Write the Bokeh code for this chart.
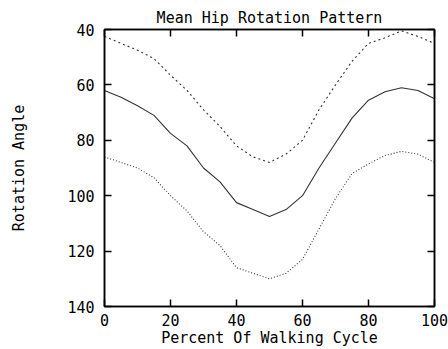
from bokeh.plotting import figure
from bokeh.models import Range1d, FixedTicker, LinearAxis
from bokeh.embed import file_html
from bokeh.resources import INLINE

pct = [0, 5, 10, 15, 20, 25, 30, 35, 40, 45, 50, 55, 60, 65, 70, 75, 80, 85, 90, 95, 100]
upper = [42.5, 45, 47.5, 50.5, 56.5, 62, 69, 75, 82, 86, 88, 85, 80, 69, 60, 51.5, 45, 43, 40.5, 42.5, 45]
mean = [62, 64.5, 67.5, 71, 77.5, 82, 90, 95, 102.5, 105, 107.5, 105, 100, 90, 81, 72, 65.5, 62.5, 61, 62, 65]
lower = [86, 88, 90, 93.5, 100, 105.5, 113, 118, 126, 128, 130, 128, 123, 112, 101, 92, 88.5, 85.5, 84, 85, 88]
x_ticks = [0, 20, 40, 60, 80, 100]
y_ticks = [40, 60, 80, 100, 120, 140]

FONT = "DejaVu Sans Mono"
FS = "15px"

p = figure(width=448, height=349, output_backend="svg", toolbar_location=None,
           x_range=Range1d(0, 100), y_range=Range1d(140, 40),
           title="Mean Hip Rotation Pattern",
           min_border_left=104, min_border_right=14, min_border_top=29, min_border_bottom=41)
p.title.align = "center"
p.title.text_font = FONT
p.title.text_font_size = FS
p.title.text_font_style = "normal"
p.title.text_color = "black"
p.title.offset = 0
p.title.standoff = 5

p.line(pct, upper, line_color="#333333", line_width=1.1, line_dash="2 3")
p.line(pct, mean, line_color="#333333", line_width=1.1)
p.line(pct, lower, line_color="#333333", line_width=1.1, line_dash="1 2")

p.grid.visible = False
p.outline_line_color = "black"
p.outline_line_width = 1.5

for ax, ticks in ((p.xaxis[0], x_ticks), (p.yaxis[0], y_ticks)):
    ax.ticker = FixedTicker(ticks=ticks)
    ax.minor_tick_line_color = None
    ax.major_tick_in = 7
    ax.major_tick_out = 0
    ax.major_tick_line_color = "black"
    ax.major_tick_line_width = 1.5
    ax.axis_line_color = "black"
    ax.axis_line_width = 1.5
    ax.major_label_text_font = FONT
    ax.major_label_text_font_size = FS
    ax.major_label_text_color = "black"
    ax.axis_label_text_font = FONT
    ax.axis_label_text_font_size = FS
    ax.axis_label_text_font_style = "normal"
    ax.axis_label_text_color = "black"

p.xaxis.axis_label = "Percent Of Walking Cycle"
p.xaxis.major_label_standoff = 7
p.xaxis.axis_label_standoff = 0
p.yaxis.axis_label = "Rotation Angle"
p.yaxis.major_label_standoff = 10
p.yaxis.axis_label_standoff = 36

top = LinearAxis(ticker=FixedTicker(ticks=x_ticks), major_label_text_font_size="0px",
                 major_tick_in=7, major_tick_out=0, minor_tick_line_color=None,
                 major_tick_line_width=1.5, axis_line_width=1.5)
top.major_label_text_alpha = 0
p.add_layout(top, "above")
right = LinearAxis(ticker=FixedTicker(ticks=y_ticks), major_label_text_font_size="0px",
                   major_tick_in=7, major_tick_out=0, minor_tick_line_color=None,
                   major_tick_line_width=1.5, axis_line_width=1.5)
right.major_label_text_alpha = 0
p.add_layout(right, "right")

open("out.html", "w").write(file_html(p, INLINE))
